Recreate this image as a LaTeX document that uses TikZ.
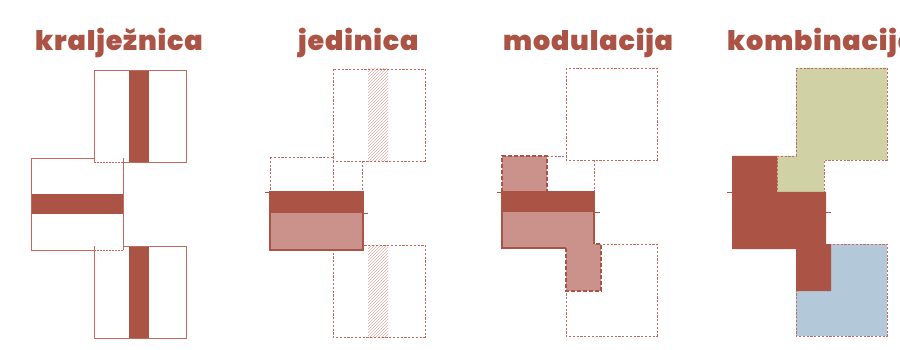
\documentclass[tikz,border=0pt]{standalone}
\usepackage{fontspec}
\usetikzlibrary{patterns}
\IfFontExistsTF{Poppins Black}{\newfontfamily\titlefont{Poppins Black}[LetterSpace=3]}{\newfontfamily\titlefont{Poppins ExtraBold}[LetterSpace=6]}
\definecolor{rd}{HTML}{AB5446}
\definecolor{pk}{HTML}{CB928B}
\definecolor{lc}{HTML}{C26A5F}
\definecolor{gr}{HTML}{D0D1A5}
\definecolor{bl}{HTML}{B3C8D8}
\begin{document}
\begin{tikzpicture}[x=1pt,y=-1pt,
  title/.style={anchor=base west,inner sep=0pt,text=rd,font=\titlefont\fontsize{27}{27}\selectfont},
  solidline/.style={draw=lc,line width=0.9pt},
  dotline/.style={draw=lc,line width=0.9pt,dash pattern=on 1.5pt off 1.5pt},
  thindash/.style={draw=lc,line width=0.9pt,dash pattern=on 2.2pt off 1.6pt},
  thickdash/.style={draw=rd,line width=2pt,dash pattern=on 4pt off 2pt},
  thickline/.style={draw=rd,line width=2pt},
  tick/.style={draw=rd,line width=0.6pt},
  hatch/.style={pattern=north east lines,pattern color=pk!70}]
\useasboundingbox (0,0) rectangle (900,350);
\clip (0,0) rectangle (900,350);
% titles
\node[title] (t1) at (35,51) {kralježnica};
\node[title] (t2) at (298,51) {jedinica};
\node[title] (t3) at (503,51) {modulacija};
\node[title] (t4) at (727,51) {kombinacija};
% panel 1
\fill[rd] (129,70) rectangle (149,162);
\fill[rd] (31,194) rectangle (123,214);
\fill[rd] (129,246) rectangle (149,338);
\draw[solidline] (123,162) -- (186,162) -- (186,70) -- (94,70) -- (94,162);
\draw[dotline] (94,162) -- (123,162);
\draw[solidline] (94,158) -- (31,158) -- (31,250) -- (94,250);
\draw[solidline] (123,158) -- (123,250);
\draw[dotline] (94,250) -- (123,250);
\draw[solidline] (123,246) -- (186,246) -- (186,338) -- (94,338) -- (94,246);
% panel 2
\fill[hatch] (368,69) rectangle (388,161);
\fill[hatch] (368,245) rectangle (388,337);
\draw[thindash] (333,69) rectangle (425,161);
\draw[thindash] (333,161) -- (333,245);
\draw[thindash] (270,157) -- (333,157);
\draw[thindash] (270,157) -- (270,192);
\draw[thindash] (362,161) -- (362,192);
\draw[thindash] (333,245) rectangle (425,337);
\fill[pk] (270,213) rectangle (363,250);
\fill[rd] (270,192) rectangle (363,213);
\draw[thickline] (270,192) rectangle (363,250);
\draw[tick] (265,192) -- (270,192);
\draw[tick] (363,213) -- (368,213);
% panel 3
\draw[thindash] (566,68) rectangle (657,160);
\draw[thindash] (547,156) -- (566,156);
\draw[thindash] (594,160) -- (594,192);
\draw[thindash] (566,244) rectangle (657,336);
\fill[pk] (502,156) rectangle (547,192);
\draw[thickdash] (502,192) -- (502,156) -- (547,156) -- (547,192);
\fill[pk] (502,212) rectangle (594,248);
\fill[rd] (502,192) rectangle (595,212);
\draw[thickline] (502,192) rectangle (594,248);
\fill[pk] (566,244) rectangle (601,291);
\draw[thickdash] (566,248) -- (566,291) -- (601,291) -- (601,244) -- (594,244);
\draw[tick] (497,192) -- (502,192);
\draw[tick] (595,212) -- (600,212);
% panel 4
\filldraw[fill=gr,thindash] (796,68) -- (887,68) -- (887,160) -- (824,160) -- (824,192) -- (777,192) -- (777,156) -- (796,156) -- cycle;
\filldraw[fill=bl,thindash] (796,244) rectangle (887,336);
\fill[rd] (732,156) -- (777,156) -- (777,192) -- (826,192) -- (826,244) -- (831,244) -- (831,291) -- (796,291) -- (796,249) -- (732,249) -- cycle;
\draw[tick] (727,192) -- (732,192);
\draw[tick] (826,212) -- (831,212);
\end{tikzpicture}
\end{document}
